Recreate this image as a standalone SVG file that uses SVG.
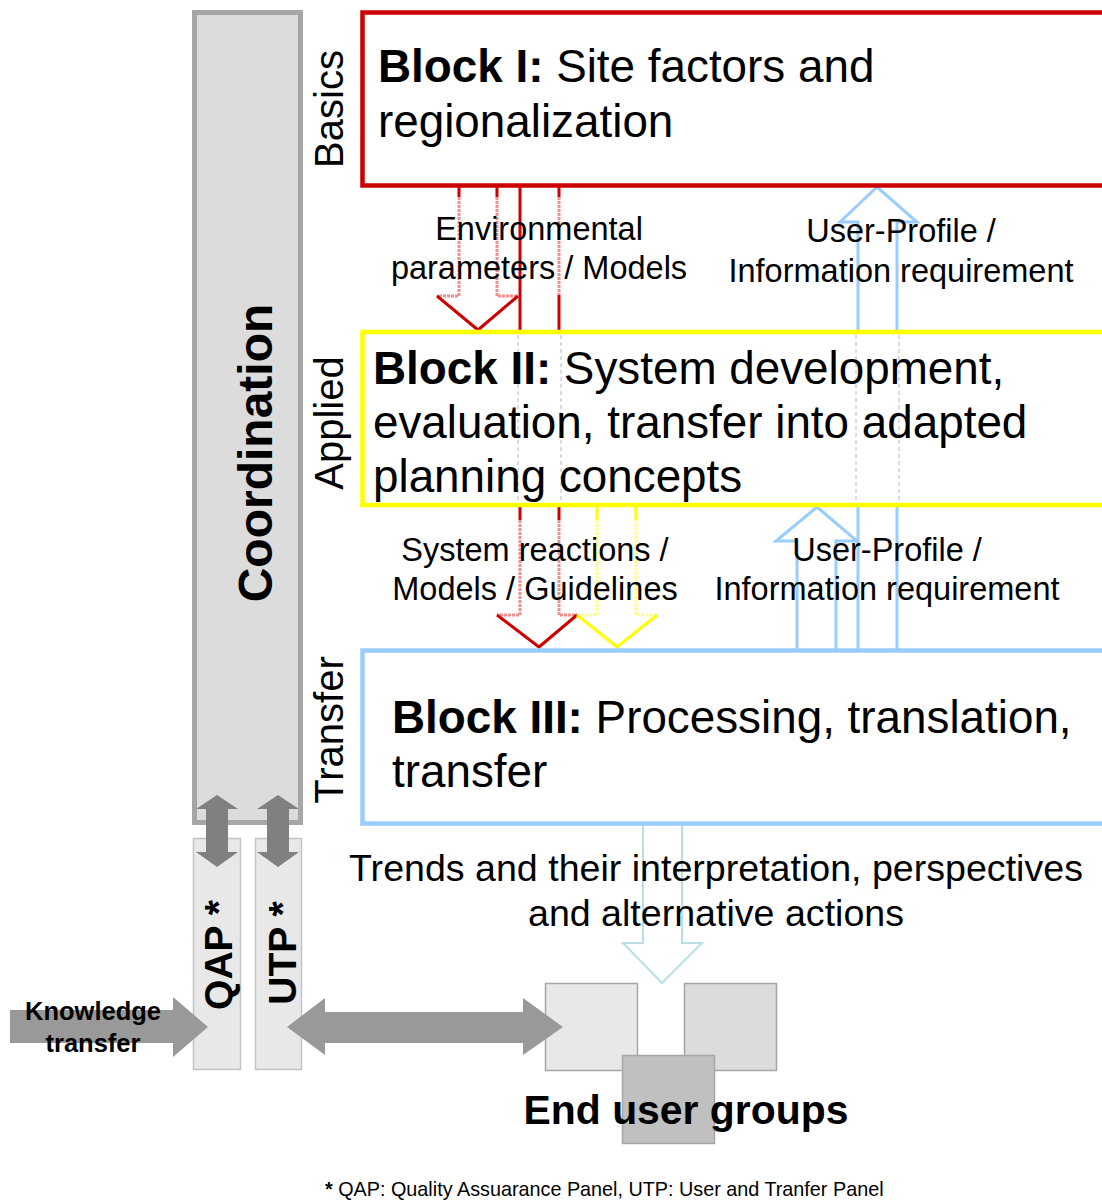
<svg xmlns="http://www.w3.org/2000/svg" width="1102" height="1201" viewBox="0 0 1102 1201">
<style>
text{font-family:"Liberation Sans",Arial,sans-serif;fill:#000}
.b{font-weight:bold}
.blk{font-size:45.8px}
.lbl{font-size:32.5px}
.side{font-size:40px}
.red{fill:none;stroke:#cc0000;stroke-width:3}
.redf{fill:none;stroke:#ee9090;stroke-width:3;stroke-dasharray:3 1}
.yel{fill:none;stroke:#ffff00;stroke-width:3}
.yelf{fill:none;stroke:#ffff80;stroke-width:3;stroke-dasharray:3 1}
.blu{fill:none;stroke:#99ccff;stroke-width:3}
.gd{fill:none;stroke:#b8b8b8;stroke-width:1;stroke-dasharray:4 3}
.panel{fill:#e8e8e8;stroke:#c4c4c4;stroke-width:1.5}
.ga{fill:#808080}
.gb{fill:#999999}
</style>
<rect width="1102" height="1201" fill="#fff"/>

<g id="coordination">
<rect x="194.5" y="12.5" width="106" height="810" fill="#dcdcdc" stroke="#a6a6a6" stroke-width="5"/>
<text class="b" font-size="48" text-anchor="middle" transform="translate(272,453) rotate(-90)">Coordination</text>
</g>

<g id="side-labels">
<text class="side" text-anchor="middle" transform="translate(343,109) rotate(-90)">Basics</text>
<text class="side" text-anchor="middle" transform="translate(343,423) rotate(-90)">Applied</text>
<text class="side" text-anchor="middle" transform="translate(343,730) rotate(-90)">Transfer</text>
</g>

<g id="connectors">
<!-- Block I -> Block II (red) -->
<path class="red" d="M459,187 V197 M497,187 V197"/>
<path class="redf" d="M459,197 V296 H437 M497,197 V296 H518"/>
<path class="red" d="M437,296 L478,330 L518,296"/>
<!-- Block I -> Block III (red, through Block II) -->
<path class="red" d="M520,187 V333 M559,187 V197 M559,295 V333"/>
<path class="redf" d="M559,197 V295"/>
<path class="red" d="M520,506 V520 M559,506 V520"/>
<path class="redf" d="M520,520 V615 H497 M559,520 V615 H577"/>
<path class="red" d="M497,615 L539,647 L577,615"/>
<!-- Block II -> Block III (yellow) -->
<path class="yel" d="M597,506 V520 M636,506 V520"/>
<path class="yelf" d="M597,520 V615 H577 M636,520 V615 H657"/>
<path class="yel" d="M577,615 L617,647 L657,615"/>
<!-- Block III -> Block I (blue) -->
<path class="blu" d="M858,650 V222 H840 L877,187 L917,222 H897 V650"/>
<!-- Block III -> Block II (blue) -->
<path class="blu" d="M797,650 V541 H776 L817,507 L857,541 H836 V650"/>
<!-- Block III -> end users -->
<path d="M643,825 V943 H623 L662,983 L702,943 H682 V825" fill="none" stroke="#b8e0e4" stroke-width="2"/>
</g>

<g id="block1">
<rect x="362.5" y="12.5" width="745" height="173" fill="#fff" stroke="#cc0000" stroke-width="4.5"/>
<text class="blk" x="378" y="82"><tspan class="b">Block I:</tspan> Site factors and</text>
<text class="blk" x="378" y="137">regionalization</text>
</g>

<g id="block2">
<rect x="362.5" y="332" width="745" height="173" fill="#fff" stroke="#ffff00" stroke-width="4.5"/>
<path class="gd" d="M518,335 V503 M561,335 V503 M856,335 V503 M899,335 V503"/>
<text class="blk" x="373" y="384"><tspan class="b">Block II:</tspan> System development,</text>
<text class="blk" x="373" y="438">evaluation, transfer into adapted</text>
<text class="blk" x="373" y="492">planning concepts</text>
</g>

<g id="block3">
<rect x="362.5" y="650.5" width="745" height="173" fill="#fff" stroke="#99ccff" stroke-width="4.5"/>
<text class="blk" x="392" y="733"><tspan class="b">Block III:</tspan> Processing, translation,</text>
<text class="blk" x="392" y="787">transfer</text>
</g>

<g id="labels">
<text class="lbl" x="539" y="240" text-anchor="middle">Environmental</text>
<text class="lbl" x="539" y="279" text-anchor="middle">parameters / Models</text>
<text class="lbl" x="901" y="242" text-anchor="middle">User-Profile /</text>
<text class="lbl" x="901" y="282" text-anchor="middle">Information requirement</text>
<text class="lbl" x="535" y="561" text-anchor="middle">System reactions /</text>
<text class="lbl" x="535" y="600" text-anchor="middle">Models / Guidelines</text>
<text class="lbl" x="887" y="561" text-anchor="middle">User-Profile /</text>
<text class="lbl" x="887" y="600" text-anchor="middle">Information requirement</text>
<text font-size="37.6" x="716" y="881" text-anchor="middle">Trends and their interpretation, perspectives</text>
<text font-size="37.6" x="716" y="926" text-anchor="middle">and alternative actions</text>
</g>

<g id="qap">
<rect class="panel" x="193.5" y="838.5" width="47" height="231"/>
<text class="b" font-size="39" text-anchor="middle" transform="translate(232,955) rotate(-90)">QAP *</text>
</g>
<g id="utp">
<rect class="panel" x="255.5" y="838.5" width="46" height="231"/>
<text class="b" font-size="39" text-anchor="middle" transform="translate(296,953) rotate(-90)">UTP *</text>
</g>

<g id="panel-connectors">
<path class="ga" d="M217,795 L238,809 H228 V852 H238 L217,867 L196,852 H206 V809 H196 Z"/>
<path class="ga" d="M278,795 L299,809 H289 V852 H299 L278,867 L257,852 H267 V809 H257 Z"/>
</g>

<g id="end-users">
<rect x="545.5" y="983.5" width="92" height="87" fill="#e8e8e8" stroke="#a6a6a6" stroke-width="1.5"/>
<rect x="684.5" y="983.5" width="92" height="87" fill="#dcdcdc" stroke="#a6a6a6" stroke-width="1.5"/>
<rect x="622.5" y="1055.5" width="92" height="88" fill="#c0c0c0" stroke="#a6a6a6" stroke-width="1.5"/>
<text class="b" font-size="40.9" x="686" y="1124" text-anchor="middle">End user groups</text>
</g>

<g id="knowledge-transfer">
<path class="gb" d="M10,1010 H173 V997 L208,1027 L173,1057 V1043 H10 Z"/>
<text class="b" font-size="25.5" x="93" y="1020" text-anchor="middle">Knowledge</text>
<text class="b" font-size="25.5" x="93" y="1052" text-anchor="middle">transfer</text>
</g>

<g id="utp-enduser-arrow">
<path class="gb" d="M287,1027 L325,998 V1012 H523 V998 L563,1027 L523,1055 V1043 H325 V1055 Z"/>
</g>

<g id="footnote">
<text font-size="19.8" x="325" y="1196"><tspan class="b">*</tspan> QAP: Quality Assuarance Panel, UTP: User and Tranfer Panel</text>
</g>
</svg>
